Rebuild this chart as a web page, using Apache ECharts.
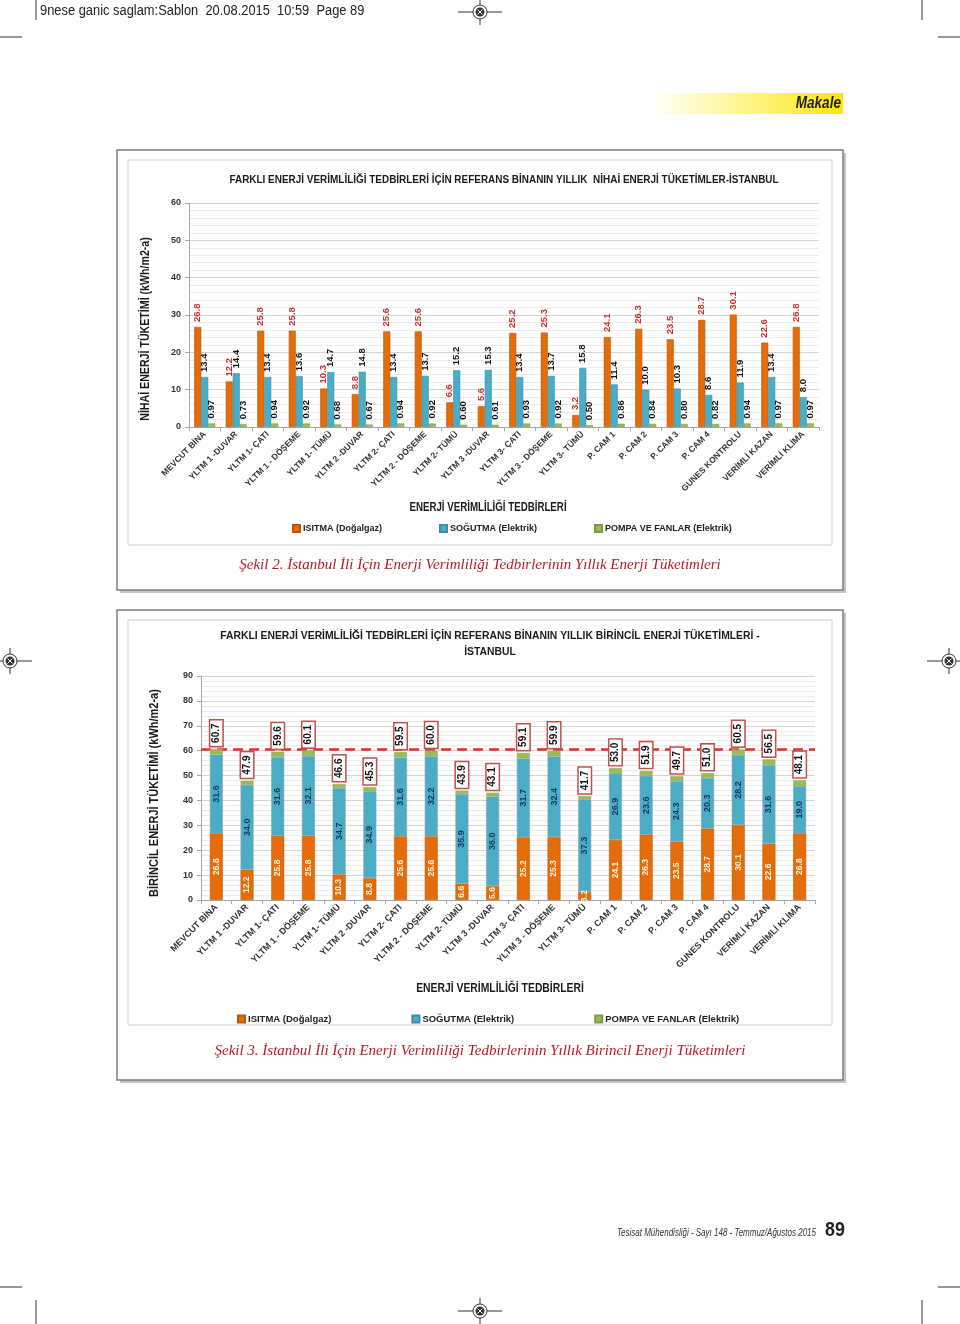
<!DOCTYPE html>
<html><head><meta charset="utf-8">
<script src="https://cdn.jsdelivr.net/npm/echarts@6/dist/echarts.min.js"></script>
<style>html,body{margin:0;padding:0;background:#fff}#c{width:960px;height:1324px}</style>
</head><body><div id="c"></div>
<script>
// ---- data ----
const categories = ['MEVCUT BİNA','YLTM 1 -DUVAR','YLTM 1- ÇATI','YLTM 1 - DÖŞEME','YLTM 1- TÜMÜ','YLTM 2 -DUVAR','YLTM 2- ÇATI','YLTM 2 - DÖŞEME','YLTM 2- TÜMÜ','YLTM 3 -DUVAR','YLTM 3- ÇATI','YLTM 3 - DÖŞEME','YLTM 3- TÜMÜ','P. CAM 1','P. CAM 2','P. CAM 3','P. CAM 4','GUNES KONTROLU','VERİMLİ KAZAN','VERİMLİ KLİMA'];
const seriesNames = ['ISITMA (Doğalgaz)','SOĞUTMA (Elektrik)','POMPA VE FANLAR (Elektrik)'];
// Figure 2: final energy
const finalHeating = [26.8,12.2,25.8,25.8,10.3,8.8,25.6,25.6,6.6,5.6,25.2,25.3,3.2,24.1,26.3,23.5,28.7,30.1,22.6,26.8];
const finalCooling = [13.4,14.4,13.4,13.6,14.7,14.8,13.4,13.7,15.2,15.3,13.4,13.7,15.8,11.4,10.0,10.3,8.6,11.9,13.4,8.0];
const finalPumps   = [0.97,0.73,0.94,0.92,0.68,0.67,0.94,0.92,0.60,0.61,0.93,0.92,0.50,0.86,0.84,0.80,0.82,0.94,0.97,0.97];
// Figure 3: primary energy
const primaryHeating = [26.8,12.2,25.8,25.8,10.3,8.8,25.6,25.6,6.6,5.6,25.2,25.3,3.2,24.1,26.3,23.5,28.7,30.1,22.6,26.8];
const primaryCooling = [31.6,34.0,31.6,32.1,34.7,34.9,31.6,32.2,35.9,36.0,31.7,32.4,37.3,26.9,23.6,24.3,20.3,28.2,31.6,19.0];
const primaryPumps   = [2.3,1.7,2.2,2.2,1.6,1.6,2.3,2.2,1.4,1.5,2.2,2.2,1.2,2.0,2.0,1.9,2.0,2.2,2.3,2.3];
const primaryTotals  = [60.7,47.9,59.6,60.1,46.6,45.3,59.5,60.0,43.9,43.1,59.1,59.9,41.7,53.0,51.9,49.7,51.0,60.5,56.5,48.1];
const referenceLevel = 60.7;
const topTicks = {min:0, max:60, interval:10};
const bottomTicks = {min:0, max:90, interval:10};

// ---- styles ----
const SANS = '"Liberation Sans",Arial,sans-serif';
const C_OR = '#E46C0A', C_BL = '#4BACC6', C_GR = '#9BBB59';

function vLabel(color, size, digits){
  return {show:true, position:'top', rotate:90, align:'left', verticalAlign:'middle', distance:5,
    color:color, fontSize:size, fontWeight:'bold', fontFamily:SANS,
    formatter:p=>Number(p.value).toFixed(digits)};
}
function xAxisCfg(grid, fs){
  return {type:'category', gridIndex:grid, data:categories,
    axisLine:{lineStyle:{color:'#a6a6a6'}}, axisTick:{show:true,length:4,lineStyle:{color:'#a6a6a6'}},
    axisLabel:{rotate:45, interval:0, color:'#333', fontSize:fs, fontWeight:'bold', fontFamily:SANS, margin:6}};
}
function yAxisCfg(grid, t){
  return {type:'value', gridIndex:grid, min:t.min, max:t.max, interval:t.interval,
    axisLine:{show:true,lineStyle:{color:'#a6a6a6'}}, axisTick:{show:true,length:4,lineStyle:{color:'#a6a6a6'}},
    axisLabel:{color:'#333', fontSize:9, fontWeight:'bold', fontFamily:SANS, margin:8},
    splitLine:{lineStyle:{color:'#d4d4d4'}},
    minorTick:{show:false, splitNumber:5}, minorSplitLine:{show:true, lineStyle:{color:'#ececec'}}};
}
function txt(x,y,text,font,fill,align,va,extra){
  return Object.assign({type:'text', x:x, y:y, z:5, style:{text:text, font:font, fill:fill||'#222', align:align||'center', verticalAlign:va||'middle'}}, extra||{});
}
function line(x1,y1,x2,y2,w,c){
  return {type:'line', z:5, shape:{x1,y1,x2,y2}, style:{stroke:c||'#333', lineWidth:w||1}};
}
function reg(cx,cy){
  return [
    line(cx-22,cy,cx+22,cy,1,'#333'), line(cx,cy-13,cx,cy+13,1,'#333'),
    {type:'circle', z:6, shape:{cx,cy,r:7}, style:{fill:'#fff', stroke:'#333', lineWidth:1}},
    {type:'circle', z:7, shape:{cx,cy,r:4.5}, style:{fill:'#333'}},
    {type:'line', z:8, shape:{x1:cx-2.5,y1:cy-2.5,x2:cx+2.5,y2:cy+2.5}, style:{stroke:'#fff',lineWidth:1}},
    {type:'line', z:8, shape:{x1:cx-2.5,y1:cy+2.5,x2:cx+2.5,y2:cy-2.5}, style:{stroke:'#fff',lineWidth:1}}
  ];
}
function frame(x,y,w,h,ix,iy,iw,ih){
  return [
    {type:'rect', z:-10, shape:{x:x+3,y:y+3,width:w,height:h}, style:{fill:'#c4c4c4'}},
    {type:'rect', z:-9, shape:{x,y,width:w,height:h}, style:{fill:'#fff', stroke:'#7d7d7d', lineWidth:1.5}},
    {type:'rect', z:-8, shape:{x:ix,y:iy,width:iw,height:ih}, style:{fill:'#fff', stroke:'#cfcfcf', lineWidth:1}}
  ];
}

const graphics = [].concat(
  line(36,0,36,20), line(922,0,922,20), line(0,37,22,37), line(938,37,960,37),
  line(0,1287,22,1287), line(938,1287,960,1287), line(36,1300,36,1324), line(922,1300,922,1324),
  txt(40,11,'9nese ganic saglam:Sablon  20.08.2015  10:59  Page 89','14px '+SANS,'#222','left','middle',{scaleX:0.92}),
  reg(480,12), reg(10,661), reg(949,661), reg(480,1311),
  [{type:'rect', z:4, shape:{x:650,y:93,width:193,height:21},
    style:{fill:new echarts.graphic.LinearGradient(0,0,1,0,[{offset:0,color:'rgba(255,235,0,0)'},{offset:0.6,color:'rgba(255,232,0,0.55)'},{offset:1,color:'#ffe600'}])}}],
  txt(841,104,'Makale','italic bold 16px '+SANS,'#222','right','middle',{scaleX:0.85}),
  frame(117,150,726,440,128,160,704,385),
  frame(117,610,726,470,128,620,704,405),
  txt(504,180,'FARKLI ENERJİ VERİMLİLİĞİ TEDBİRLERİ İÇİN REFERANS BİNANIN YILLIK  NİHAİ ENERJİ TÜKETİMLER-İSTANBUL','bold 11.5px '+SANS,'#1a1a1a','center','middle',{scaleX:0.865}),
  txt(490,636,'FARKLI ENERJİ VERİMLİLİĞİ TEDBİRLERİ İÇİN REFERANS BİNANIN YILLIK BİRİNCİL ENERJİ TÜKETİMLERİ -','bold 11.5px '+SANS,'#1a1a1a','center','middle',{scaleX:0.9}),
  txt(490,652,'İSTANBUL','bold 11.5px '+SANS,'#1a1a1a','center','middle',{scaleX:0.9}),
  txt(146,329,'NİHAİ ENERJİ TÜKETİMİ (kWh/m2-a)','bold 12.5px '+SANS,'#1a1a1a','center','middle',{rotation:Math.PI/2, scaleX:0.85}),
  txt(155,793,'BİRİNCİL ENERJİ TÜKETİMİ (kWh/m2-a)','bold 12.5px '+SANS,'#1a1a1a','center','middle',{rotation:Math.PI/2, scaleX:0.88}),
  txt(488,508,'ENERJİ VERİMLİLİĞİ TEDBİRLERİ','bold 12px '+SANS,'#1a1a1a','center','middle',{scaleX:0.81}),
  txt(500,989,'ENERJİ VERİMLİLİĞİ TEDBİRLERİ','bold 12.5px '+SANS,'#1a1a1a','center','middle',{scaleX:0.83}),
  txt(480,565,'Şekil 2. İstanbul İli İçin Enerji Verimliliği Tedbirlerinin Yıllık Enerji Tüketimleri','italic 15px "Liberation Serif",serif','#b51a2a'),
  txt(480,1051,'Şekil 3. İstanbul İli İçin Enerji Verimliliği Tedbirlerinin Yıllık Birincil Enerji Tüketimleri','italic 15px "Liberation Serif",serif','#b51a2a'),
  txt(816,1233,'Tesisat Mühendisliği - Sayı 148 - Temmuz/Ağustos 2015','italic 10px '+SANS,'#333','right','middle',{scaleX:0.8}),
  txt(825,1230,'89','bold 21px '+SANS,'#222','left','middle',{scaleX:0.85})
);

const option = {
  animation:false,
  backgroundColor:'transparent',
  textStyle:{fontFamily:SANS},
  grid:[
    {left:189, width:630, top:203, height:224},
    {left:201, width:614, top:676, height:224}
  ],
  xAxis:[xAxisCfg(0,8.5), xAxisCfg(1,9)],
  yAxis:[yAxisCfg(0,topTicks), yAxisCfg(1,bottomTicks)],
  legend:[
    {data:seriesNames, left:287, top:519, itemWidth:7, itemHeight:7, itemGap:57, icon:'rect',
     textStyle:{color:'#222', fontSize:9, fontWeight:'bold', fontFamily:SANS, padding:[0,0,0,-2]}},
    {data:seriesNames, left:232, top:1009, itemWidth:7, itemHeight:7, itemGap:80, icon:'rect',
     textStyle:{color:'#222', fontSize:9.5, fontWeight:'bold', fontFamily:SANS, padding:[0,0,0,-2]}}
  ],
  graphic:graphics,
  series:[
    {name:seriesNames[0], type:'bar', xAxisIndex:0, yAxisIndex:0, data:finalHeating, barWidth:7, barGap:'0%',
     itemStyle:{color:C_OR, borderColor:'#b9560a', borderWidth:0.6}, label:vLabel('#c8302c',9.5,1)},
    {name:seriesNames[1], type:'bar', xAxisIndex:0, yAxisIndex:0, data:finalCooling, barWidth:7, barGap:'0%',
     itemStyle:{color:C_BL, borderColor:'#3a8ea6', borderWidth:0.6}, label:vLabel('#111',9.5,1)},
    {name:seriesNames[2], type:'bar', xAxisIndex:0, yAxisIndex:0, data:finalPumps, barWidth:7, barGap:'0%',
     itemStyle:{color:C_GR, borderColor:'#7e9c45', borderWidth:0.6}, label:vLabel('#111',9.5,2)},

    {name:seriesNames[0], type:'bar', stack:'p', xAxisIndex:1, yAxisIndex:1, data:primaryHeating, barWidth:13,
     itemStyle:{color:C_OR, borderColor:'#c0600c', borderWidth:0.6},
     label:{show:true, position:'inside', rotate:90, align:'center', verticalAlign:'middle', color:'#fff4e0',
            fontSize:8.5, fontWeight:'bold', fontFamily:SANS, formatter:p=>Number(p.value).toFixed(1)}},
    {name:seriesNames[1], type:'bar', stack:'p', xAxisIndex:1, yAxisIndex:1, data:primaryCooling, barWidth:13,
     itemStyle:{color:C_BL, borderColor:'#8aa4ad', borderWidth:0.6},
     label:{show:true, position:'inside', rotate:90, align:'center', verticalAlign:'middle', color:'#17365d',
            fontSize:9, fontWeight:'bold', fontFamily:SANS, formatter:p=>Number(p.value).toFixed(1)}},
    {name:seriesNames[2], type:'bar', stack:'p', xAxisIndex:1, yAxisIndex:1, data:primaryPumps, barWidth:13,
     itemStyle:{color:C_GR, borderColor:'#8fae55', borderWidth:0.6},
     label:{show:true, position:'top', rotate:90, align:'left', verticalAlign:'middle', distance:3,
            color:'#111', fontSize:10, fontWeight:'bold', fontFamily:SANS,
            backgroundColor:'#fff', borderColor:'#c0504d', borderWidth:1.5, padding:[1,3,1,3],
            formatter:p=>primaryTotals[p.dataIndex].toFixed(1)},
     markLine:{silent:true, symbol:'none', label:{show:false}, z:1,
       lineStyle:{color:'#e0312f', type:[10,6], width:2.5},
       data:[{yAxis:referenceLevel}]}}
  ]
};
const chart = echarts.init(document.getElementById('c'), null, {renderer:'canvas'});
chart.setOption(option);
</script></body></html>
